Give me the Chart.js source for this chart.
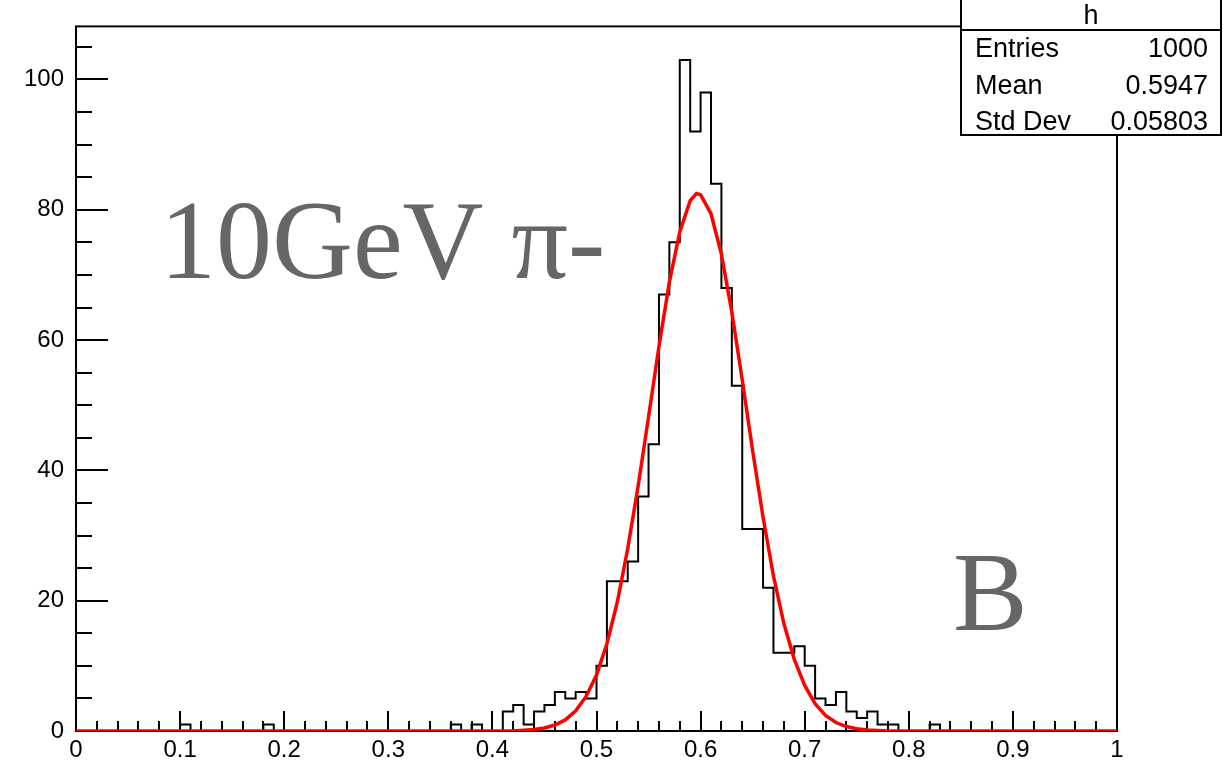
<!DOCTYPE html>
<html>
<head>
<meta charset="utf-8">
<script src="https://cdn.jsdelivr.net/npm/chart.js@4.4.1/dist/chart.umd.min.js"></script>
<style>
  body { margin: 0; background: #fff; }
  canvas { display: block; }
</style>
</head>
<body>
<canvas id="histo" width="1223" height="768"></canvas>
<script>
// histogram "h": 100 bins from 0 to 1
const binLow = 0;
const binWidth = 0.01;
const counts = [
  0, 0, 0, 0, 0, 0, 0, 0, 0, 0,
  1, 0, 0, 0, 0, 0, 0, 0, 1, 0,
  0, 0, 0, 0, 0, 0, 0, 0, 0, 0,
  0, 0, 0, 0, 0, 0, 1, 0, 1, 0,
  0, 3, 4, 1, 3, 4, 6, 5, 6, 5,
  10, 23, 23, 26, 36, 44, 67, 75, 103, 92,
  98, 84, 68, 53, 31, 31, 22, 12, 12, 13,
  10, 5, 4, 6, 3, 2, 3, 1, 1, 0,
  0, 0, 1, 0, 0, 0, 0, 0, 0, 0,
  0, 0, 0, 0, 0, 0, 0, 0, 0, 0,
];

// gaus fit (red)
const fitX = [
  0, 0.42, 0.43, 0.44, 0.45, 0.46, 0.47, 0.48, 0.49, 0.5, 0.51, 0.52, 0.53,
  0.54, 0.55, 0.56, 0.57, 0.58, 0.59, 0.596, 0.6, 0.61, 0.62, 0.63, 0.64, 0.65,
  0.66, 0.67, 0.68, 0.69, 0.7, 0.71, 0.72, 0.73, 0.74, 0.75, 0.76, 0.77,
  0.78, 1,
];
const fitY = [
  0, 0, 0.1, 0.23, 0.47, 0.92, 1.7, 3.1, 5.3, 8.6, 13.4, 19.8, 28.0,
  37.6, 48.2, 59.0, 68.9, 76.6, 81.4, 82.5, 82.3, 79.4, 73.2, 64.3, 53.9, 43.0,
  32.8, 23.8, 16.5, 11.0, 7.0, 4.2, 2.4, 1.3, 0.68, 0.34, 0.16, 0.07,
  0, 0,
];

const xTicks = [0, 0.1, 0.2, 0.3, 0.4, 0.5, 0.6, 0.7, 0.8, 0.9, 1];
const yTicks = [0, 20, 40, 60, 80, 100];
const yMax = 108.15;

const statsTitle = "h";
const statsNames = ["Entries", "Mean", "Std Dev"];
const statsValues = ["1000", "0.5947", "0.05803"];

const bigLabel = "10GeV \u03c0-";
const cornerLabel = "B";

const histPoints = counts.map((c, i) => ({ x: binLow + i * binWidth, y: c }));
histPoints.push({ x: binLow + counts.length * binWidth, y: 0 });
const fitPoints = fitX.map((x, i) => ({ x: x, y: fitY[i] }));

// root style frame + ticks drawn inside the frame
const rootFrame = {
  id: "rootFrame",
  beforeDatasetsDraw(chart) {
    const ctx = chart.ctx;
    const a = chart.chartArea;
    const xs = chart.scales.x;
    const ys = chart.scales.y;
    ctx.save();
    ctx.strokeStyle = "#000";
    ctx.lineWidth = 2;
    ctx.strokeRect(a.left, a.top, a.right - a.left, a.bottom - a.top);

    ctx.beginPath();
    // y ticks: 4 minor per major
    for (let v = 0; v <= yMax; v += 5) {
      const py = Math.round(ys.getPixelForValue(v));
      const len = v % 20 === 0 ? 32 : 16;
      ctx.moveTo(a.left, py);
      ctx.lineTo(a.left + len, py);
    }
    // x ticks: 5 divisions per major
    for (let k = 0; k <= 50; k++) {
      const px = Math.round(xs.getPixelForValue(k * 0.02));
      const len = k % 5 === 0 ? 20 : 10;
      ctx.moveTo(px, a.bottom);
      ctx.lineTo(px, a.bottom - len);
    }
    ctx.stroke();
    ctx.restore();
  },
  afterDraw(chart) {
    const ctx = chart.ctx;
    ctx.save();

    // text labels
    ctx.fillStyle = "#666666";
    ctx.font = "112px 'Liberation Serif', 'DejaVu Serif', serif";
    ctx.textBaseline = "alphabetic";
    ctx.textAlign = "left";
    ctx.fillText(bigLabel, 160, 278);
    ctx.fillText(cornerLabel, 953, 630);

    // stats box
    const bx = 961, by = -1, bw = 260, bh = 136;
    ctx.fillStyle = "#fff";
    ctx.fillRect(bx, by, bw, bh);
    ctx.strokeStyle = "#000";
    ctx.lineWidth = 2;
    ctx.strokeRect(bx, by, bw, bh);
    ctx.beginPath();
    ctx.moveTo(bx, 30);
    ctx.lineTo(bx + bw, 30);
    ctx.stroke();

    ctx.fillStyle = "#000";
    ctx.font = "27px 'Liberation Sans', Arial, sans-serif";
    ctx.textAlign = "center";
    ctx.fillText(statsTitle, bx + bw / 2, 24);
    const rows = [57, 94, 130];
    statsNames.forEach((name, i) => {
      ctx.textAlign = "left";
      ctx.fillText(name, 975, rows[i]);
      ctx.textAlign = "right";
      ctx.fillText(statsValues[i], 1208, rows[i]);
    });
    ctx.restore();
  },
};

new Chart(document.getElementById("histo"), {
  type: "line",
  data: {
    datasets: [
      {
        label: "fit",
        data: fitPoints,
        borderColor: "#ff0000",
        borderWidth: 3.5,
        pointRadius: 0,
        tension: 0,
        fill: false,
        order: 0,
      },
      {
        label: "h",
        data: histPoints,
        borderColor: "#000000",
        borderWidth: 2,
        pointRadius: 0,
        stepped: true,
        fill: false,
        order: 1,
      },
    ],
  },
  options: {
    responsive: false,
    animation: false,
    layout: {
      padding: { left: 0, top: 26, right: 106, bottom: 0 },
    },
    plugins: {
      legend: { display: false },
      tooltip: { enabled: false },
    },
    scales: {
      x: {
        type: "linear",
        min: 0,
        max: 1,
        afterBuildTicks: (s) => {
          s.ticks = xTicks.map((v) => ({ value: v }));
        },
        afterFit: (s) => {
          s.height = 37;
        },
        grid: { display: false, drawTicks: false },
        border: { display: false },
        ticks: {
          color: "#000",
          padding: 5,
          maxRotation: 0,
          autoSkip: false,
          font: { family: "'Liberation Sans', Arial, sans-serif", size: 24 },
          callback: (v) => String(Math.round(v * 10) / 10),
        },
      },
      y: {
        type: "linear",
        min: 0,
        max: yMax,
        afterBuildTicks: (s) => {
          s.ticks = yTicks.map((v) => ({ value: v }));
        },
        afterFit: (s) => {
          s.width = 76;
        },
        grid: { display: false, drawTicks: false },
        border: { display: false },
        ticks: {
          color: "#000",
          padding: 12,
          autoSkip: false,
          font: { family: "'Liberation Sans', Arial, sans-serif", size: 24 },
        },
      },
    },
  },
  plugins: [rootFrame],
});
</script>
</body>
</html>
